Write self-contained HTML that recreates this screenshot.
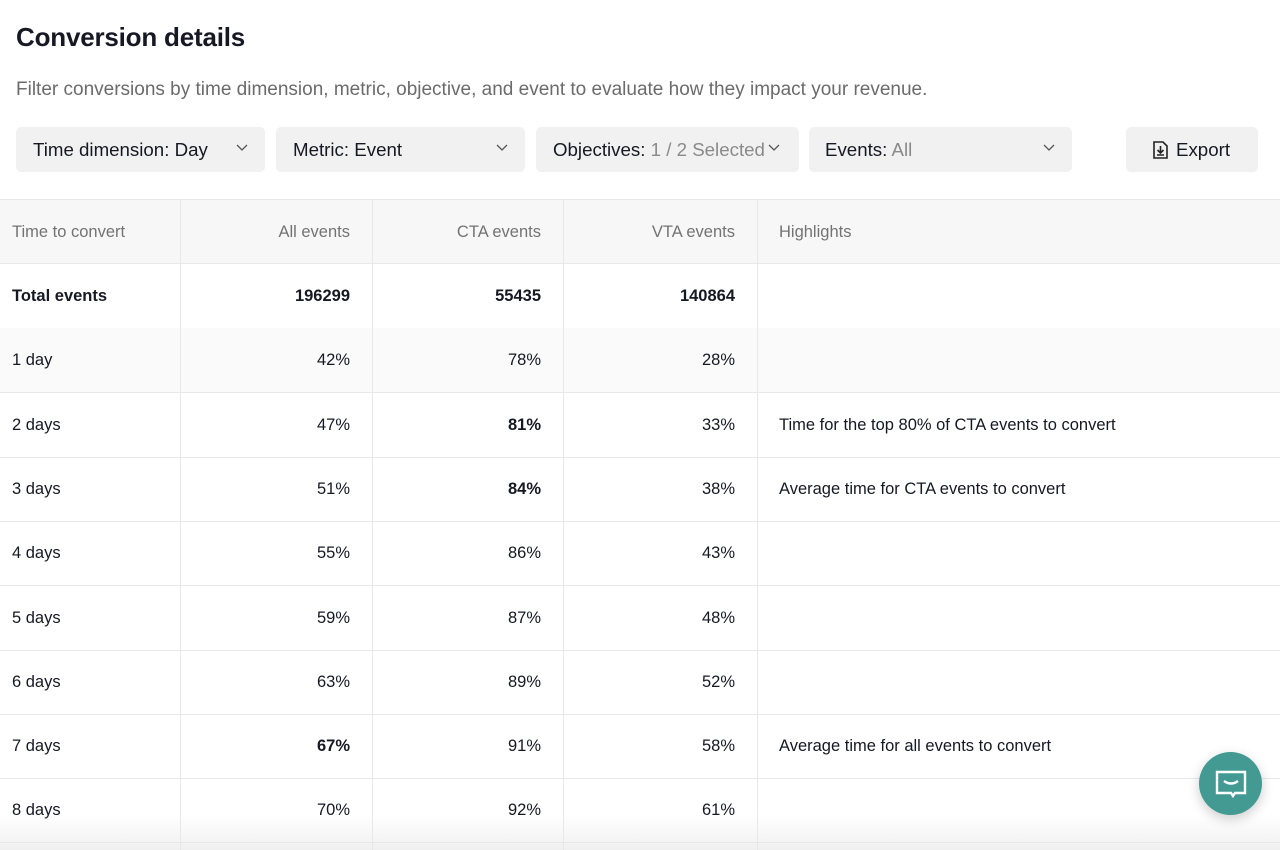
<!DOCTYPE html>
<html><head><meta charset="utf-8"><style>
body{margin:0;width:1280px;height:850px;overflow:hidden;background:#fff;font-family:"Liberation Sans",Arial,sans-serif;color:#161823;position:relative}
.a{position:absolute}
h1{position:absolute;left:16px;top:22px;margin:0;font-size:26px;font-weight:600;letter-spacing:-0.2px}
.sub{left:16px;top:79px;font-size:19px;color:#6b6b6b}
.dd{top:127px;height:45px;background:#f1f1f1;border-radius:5px;font-size:18.7px;line-height:45px;box-sizing:border-box;padding-left:17px}
.dd .c{position:absolute;right:16px;top:15px;width:14px;height:10px}
.g{color:#8a8a8a}
.row{position:absolute;left:0;width:1280px;height:64px;border-bottom:1px solid #e8e8e8;font-size:16.5px}
.row div{position:absolute;top:0;line-height:64px}
.c1{left:12px}.c2{right:930px}.c3{right:739px}.c4{right:545px}.c5{left:779px}
.vl{position:absolute;top:199px;height:651px;width:1px;background:#e8e8e8}
b{font-weight:700}
</style></head><body>
<h1>Conversion details</h1>
<div class="a sub">Filter conversions by time dimension, metric, objective, and event to evaluate how they impact your revenue.</div>
<div class="a dd" style="left:16px;width:249px">Time dimension: Day<svg class="c" viewBox="0 0 14 10"><path d="M2 3l5 5 5-5" fill="none" stroke="#555" stroke-width="1.3"/></svg></div>
<div class="a dd" style="left:276px;width:249px">Metric: Event<svg class="c" viewBox="0 0 14 10"><path d="M2 3l5 5 5-5" fill="none" stroke="#555" stroke-width="1.3"/></svg></div>
<div class="a dd" style="left:536px;width:263px">Objectives: <span class="g">1 / 2 Selected</span><svg class="c" style="right:18px" viewBox="0 0 14 10"><path d="M2 3l5 5 5-5" fill="none" stroke="#555" stroke-width="1.3"/></svg></div>
<div class="a dd" style="left:809px;width:263px;padding-left:16px">Events: <span class="g">All</span><svg class="c" viewBox="0 0 14 10"><path d="M2 3l5 5 5-5" fill="none" stroke="#555" stroke-width="1.3"/></svg></div>
<div class="a dd" style="left:1126px;width:132px;padding-left:27px"><svg width="15" height="18" viewBox="0 0 15 18" style="vertical-align:-3px;margin-right:8px"><path d="M1 1h9l4 4v12H1z" fill="none" stroke="#222" stroke-width="1.6"/><path d="M7.5 5v7M4.5 9l3 3 3-3M4 14h7" fill="none" stroke="#222" stroke-width="1.6"/></svg>Export</div>
<div class="row" style="top:199px;border-top:1px solid #e8e8e8;background:#f7f7f7;color:#737373;height:63px"><div class="c1">Time to convert</div><div class="c2">All events</div><div class="c3">CTA events</div><div class="c4">VTA events</div><div class="c5">Highlights</div></div>
<div class="row" style="top:264px;font-weight:700"><div class="c1">Total events</div><div class="c2">196299</div><div class="c3">55435</div><div class="c4">140864</div></div>
<div class="row" style="top:328px;background:#fafafa"><div class="c1">1 day</div><div class="c2">42%</div><div class="c3">78%</div><div class="c4">28%</div></div>
<div class="row" style="top:393px"><div class="c1">2 days</div><div class="c2">47%</div><div class="c3"><b>81%</b></div><div class="c4">33%</div><div class="c5">Time for the top 80% of CTA events to convert</div></div>
<div class="row" style="top:457px"><div class="c1">3 days</div><div class="c2">51%</div><div class="c3"><b>84%</b></div><div class="c4">38%</div><div class="c5">Average time for CTA events to convert</div></div>
<div class="row" style="top:521px"><div class="c1">4 days</div><div class="c2">55%</div><div class="c3">86%</div><div class="c4">43%</div></div>
<div class="row" style="top:586px"><div class="c1">5 days</div><div class="c2">59%</div><div class="c3">87%</div><div class="c4">48%</div></div>
<div class="row" style="top:650px"><div class="c1">6 days</div><div class="c2">63%</div><div class="c3">89%</div><div class="c4">52%</div></div>
<div class="row" style="top:714px"><div class="c1">7 days</div><div class="c2"><b>67%</b></div><div class="c3">91%</div><div class="c4">58%</div><div class="c5">Average time for all events to convert</div></div>
<div class="row" style="top:778px"><div class="c1">8 days</div><div class="c2">70%</div><div class="c3">92%</div><div class="c4">61%</div></div>
<div class="vl" style="left:180px"></div><div class="vl" style="left:372px"></div><div class="vl" style="left:563px"></div><div class="vl" style="left:757px"></div>
<div class="a" style="left:0;top:815px;width:1280px;height:35px;background:linear-gradient(rgba(255,255,255,0),rgba(230,230,230,0.6))"></div>
<div class="a" style="left:1199px;top:752px;width:63px;height:63px;border-radius:50%;background:#439a93;box-shadow:0 4px 12px rgba(0,0,0,0.2)">
<svg width="63" height="63" viewBox="0 0 63 63"><path d="M18 20h28v21H36l-2 3-2-3H18z" fill="none" stroke="#fff" stroke-width="2.4"/><path d="M25 29q7 5 14 0" fill="none" stroke="#fff" stroke-width="2.4"/></svg></div>
</body></html>
